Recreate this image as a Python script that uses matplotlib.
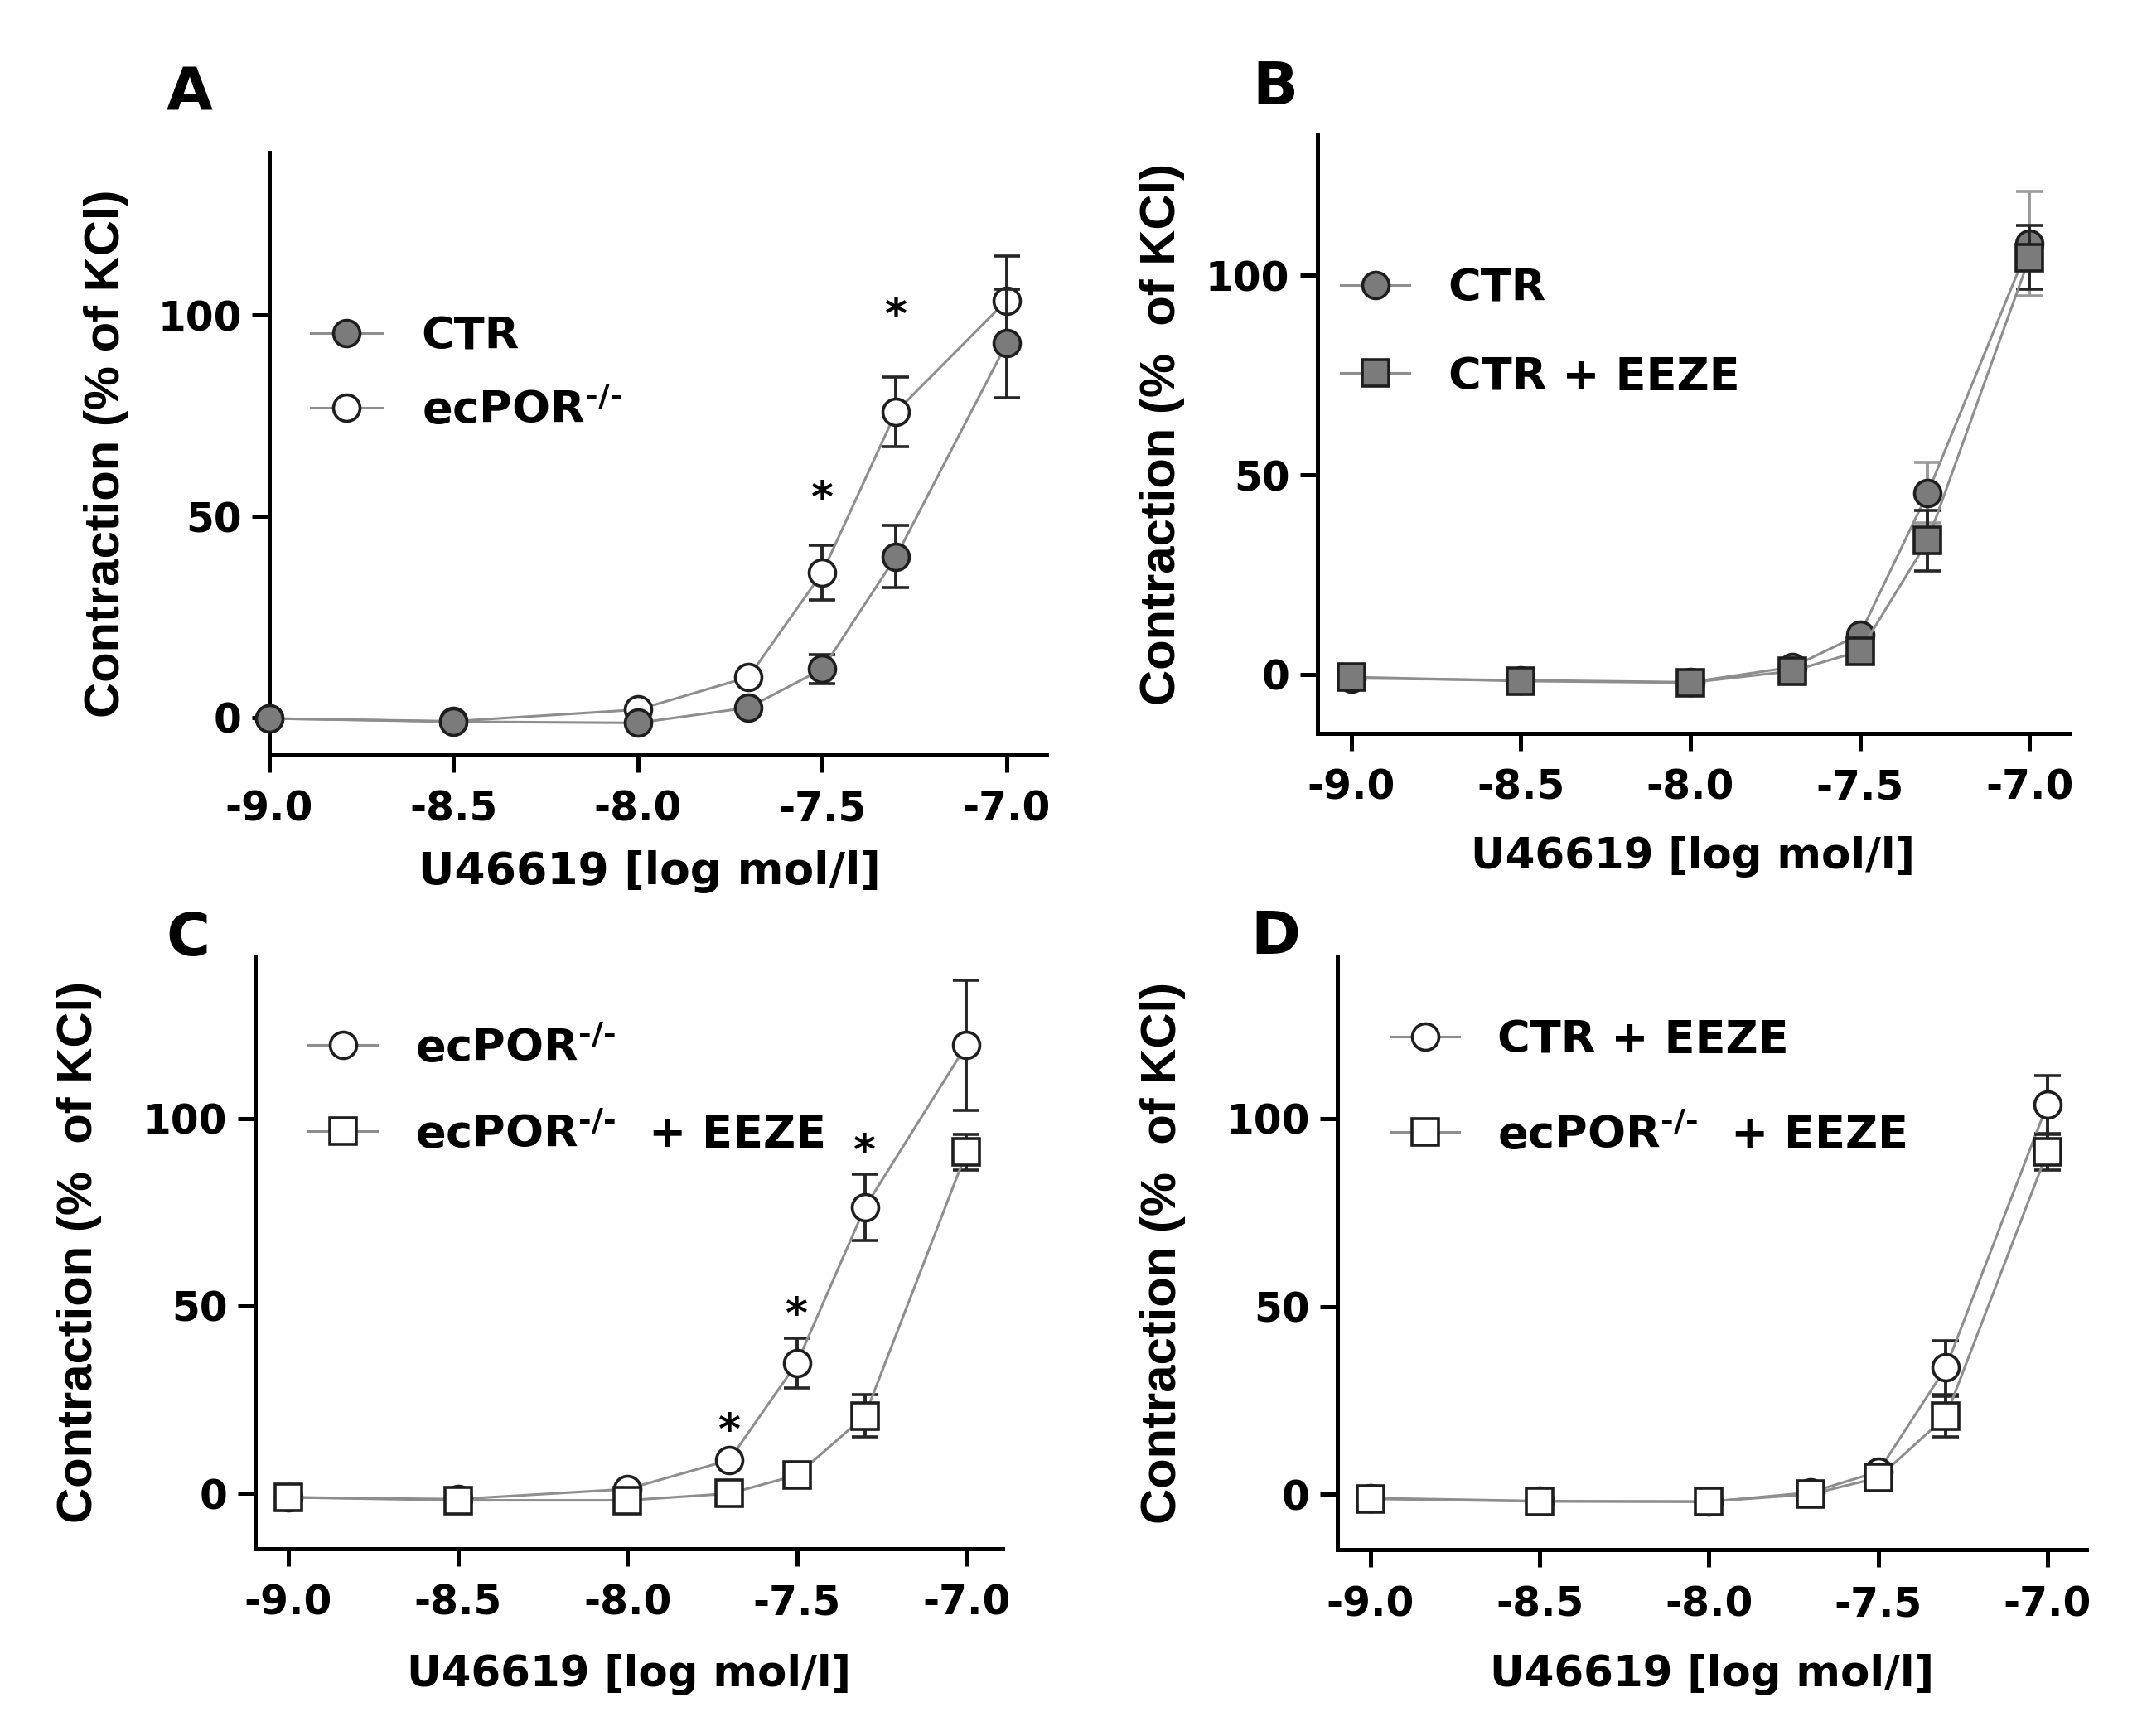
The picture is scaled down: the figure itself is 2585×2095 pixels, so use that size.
import matplotlib
matplotlib.use('Agg')
import matplotlib.pyplot as plt
import matplotlib.transforms as mtransforms
import numpy as np

plt.rcParams['font.family'] = ['DejaVu Sans']
plt.rcParams['font.weight'] = 'bold'
plt.rcParams['axes.unicode_minus'] = False
plt.rcParams['mathtext.fontset'] = 'custom'
plt.rcParams['mathtext.rm'] = 'DejaVu Sans:bold'
plt.rcParams['mathtext.default'] = 'rm'

# U46619 concentrations [log mol/l]
conc = [-9.0, -8.5, -8.0, -7.7, -7.5, -7.3, -7.0]
xticks = [-9.0, -8.5, -8.0, -7.5, -7.0]
xticklabels = ['-9.0', '-8.5', '-8.0', '-7.5', '-7.0']
yticks = [0, 50, 100]

# panel A
a_ctr = [-0.3, -1.1, -1.4, 2.4, 12.0, 40.0, 93.0]
a_ctr_err = [0, 0, 0, 0, 3.6, 7.8, 13.5]
a_por = [-0.3, -1.0, 1.9, 10.0, 36.0, 76.0, 103.7]
a_por_err = [0, 0, 0, 0, 6.8, 8.7, 11.0]
a_stars_x = [-7.5, -7.3]
a_stars_y = [57.5, 103.0]

# panel B
b_ctr = [-1.0, -1.5, -2.0, 1.8, 10.0, 45.5, 108.0]
b_ctr_err = [0, 0, 0, 0, 0, 7.6, 13.0]
b_eeze = [-0.7, -1.7, -2.1, 0.8, 5.8, 33.5, 104.5]
b_eeze_err = [0, 0, 0, 0, 0, 7.5, 8.0]

# panel C
c_por = [-1.0, -1.5, 1.2, 8.9, 34.8, 76.2, 119.5]
c_por_err = [0, 0, 0, 0, 6.6, 8.8, 17.3]
c_eeze = [-1.0, -1.8, -1.8, 0.0, 4.9, 20.7, 91.0]
c_eeze_err = [0, 0, 0, 0, 0, 5.7, 4.7]
c_stars_x = [-7.7, -7.5, -7.3]
c_stars_y = [20.0, 51.0, 94.5]

# panel D
d_ctr_eeze = [-1.0, -1.8, -2.0, 0.5, 6.0, 33.7, 103.8]
d_ctr_eeze_err = [0, 0, 0, 0, 0, 7.2, 7.7]
d_por_eeze = [-1.2, -1.9, -1.9, 0.0, 4.4, 20.7, 91.1]
d_por_eeze_err = [0, 0, 0, 0, 0, 5.5, 4.7]

LINE = '#8e8e8e'
EDGE = '#1e1e1e'
FILL = '#7b7b7b'
DARK = '#262626'
LIGHT = '#9a9a9a'

filled_o = dict(marker='o', mfc=FILL)
open_o = dict(marker='o', mfc='white')
filled_s = dict(marker='s', mfc=FILL)
open_s = dict(marker='s', mfc='white')

fig = plt.figure(figsize=(25.85, 20.95), dpi=100)


def series(ax, y, err, style, ecolor, z):
    ax.errorbar(conc, y, yerr=err, color=LINE, lw=2.2, ms=23, mec=EDGE, mew=2.6,
                ecolor=ecolor, elinewidth=2.8, capsize=11.5, capthick=2.8,
                zorder=z, clip_on=False, **style)


def legend_row(ax, x, y, label, style):
    ax.plot([x - 0.046, x + 0.046], [y, y], color=LINE, lw=2.2,
            transform=ax.transAxes, clip_on=False)
    ax.plot([x], [y], ms=23, mec=EDGE, mew=2.6, transform=ax.transAxes,
            clip_on=False, ls='none', **style)
    tr = ax.transAxes + mtransforms.ScaledTranslation(0, -14 / 72, fig.dpi_scale_trans)
    ax.text(x + 0.097, y, label, transform=tr, fontsize=39, fontweight='bold',
            ha='left', va='baseline')


def stars(ax, xs, ys):
    tr = ax.transData + mtransforms.ScaledTranslation(0, -22 / 72, fig.dpi_scale_trans)
    for x, y in zip(xs, ys):
        ax.text(x, y, '*', transform=tr, fontsize=37, fontweight='bold',
                ha='center', va='baseline')


def style_axes(ax, xlim, ylim, ylabel, ylab_x, xlab_x, xlab_y, xlab_size):
    ax.set_xlim(xlim)
    ax.set_ylim(ylim)
    ax.set_xticks(xticks)
    ax.set_xticklabels(xticklabels)
    ax.set_yticks(yticks)
    for s in ['top', 'right']:
        ax.spines[s].set_visible(False)
    for s in ['left', 'bottom']:
        ax.spines[s].set_linewidth(3.6)
    ax.tick_params(axis='both', width=3.6, length=15, labelsize=35)
    ax.tick_params(axis='x', pad=15)
    ax.tick_params(axis='y', pad=9)
    for lab in ax.get_xticklabels() + ax.get_yticklabels():
        lab.set_fontweight('bold')
    ax.set_ylabel(ylabel, fontsize=43, fontweight='bold', va='center',
                  family='Liberation Sans')
    ax.set_xlabel('U46619 [log mol/l]', fontsize=xlab_size, fontweight='bold', va='center')
    ax.yaxis.set_label_coords(ylab_x, 0.5)
    ax.xaxis.set_label_coords(xlab_x, xlab_y)


por = r'ecPOR$^{\text{-/-}}$'

# A
axA = fig.add_axes([0.1257, 0.5653, 0.3627, 0.3471])
series(axA, a_por, a_por_err, open_o, DARK, 3)
series(axA, a_ctr, a_ctr_err, filled_o, DARK, 4)
stars(axA, a_stars_x, a_stars_y)
legend_row(axA, 0.099, 0.700, 'CTR', filled_o)
legend_row(axA, 0.099, 0.576, por, open_o)
style_axes(axA, (-9.0, -6.893), (-9.3, 140.6), 'Contraction (% of KCl)',
           -0.209, 0.49, -0.1945, 38.5)

# B
axB = fig.add_axes([0.615, 0.5776, 0.351, 0.3448])
series(axB, b_ctr, b_ctr_err, filled_o, LIGHT, 3)
series(axB, b_eeze, b_eeze_err, filled_s, DARK, 4)
legend_row(axB, 0.077, 0.749, 'CTR', filled_o)
legend_row(axB, 0.077, 0.602, 'CTR + EEZE', filled_s)
style_axes(axB, (-9.10, -6.883), (-14.8, 135.3), 'Contraction (%  of KCl)',
           -0.206, 0.5, -0.2070, 37)

# C
axC = fig.add_axes([0.1191, 0.1081, 0.3489, 0.3411])
series(axC, c_por, c_por_err, open_o, DARK, 3)
series(axC, c_eeze, c_eeze_err, open_s, DARK, 4)
stars(axC, c_stars_x, c_stars_y)
legend_row(axC, 0.1175, 0.850, por, open_o)
legend_row(axC, 0.1175, 0.704, por + '  + EEZE', open_s)
style_axes(axC, (-9.098, -6.894), (-14.6, 143.2), 'Contraction (%  of KCl)',
           -0.235, 0.5, -0.2134, 37)

# D
axD = fig.add_axes([0.6245, 0.1072, 0.3495, 0.3422])
series(axD, d_ctr_eeze, d_ctr_eeze_err, open_o, DARK, 3)
series(axD, d_por_eeze, d_por_eeze_err, open_s, DARK, 4)
legend_row(axD, 0.1165, 0.864, 'CTR + EEZE', open_o)
legend_row(axD, 0.1165, 0.703, por + '  + EEZE', open_s)
style_axes(axD, (-9.097, -6.885), (-14.8, 143.3), 'Contraction (%  of KCl)',
           -0.233, 0.5, -0.2105, 37)

for lbl, x, y in [('A', 0.0886, 0.946), ('B', 0.5955, 0.949),
                  ('C', 0.0878, 0.4589), ('D', 0.5955, 0.4597)]:
    fig.text(x, y, lbl, fontsize=52, fontweight='bold', ha='center', va='center')

fig.savefig('out.png', dpi=100)
